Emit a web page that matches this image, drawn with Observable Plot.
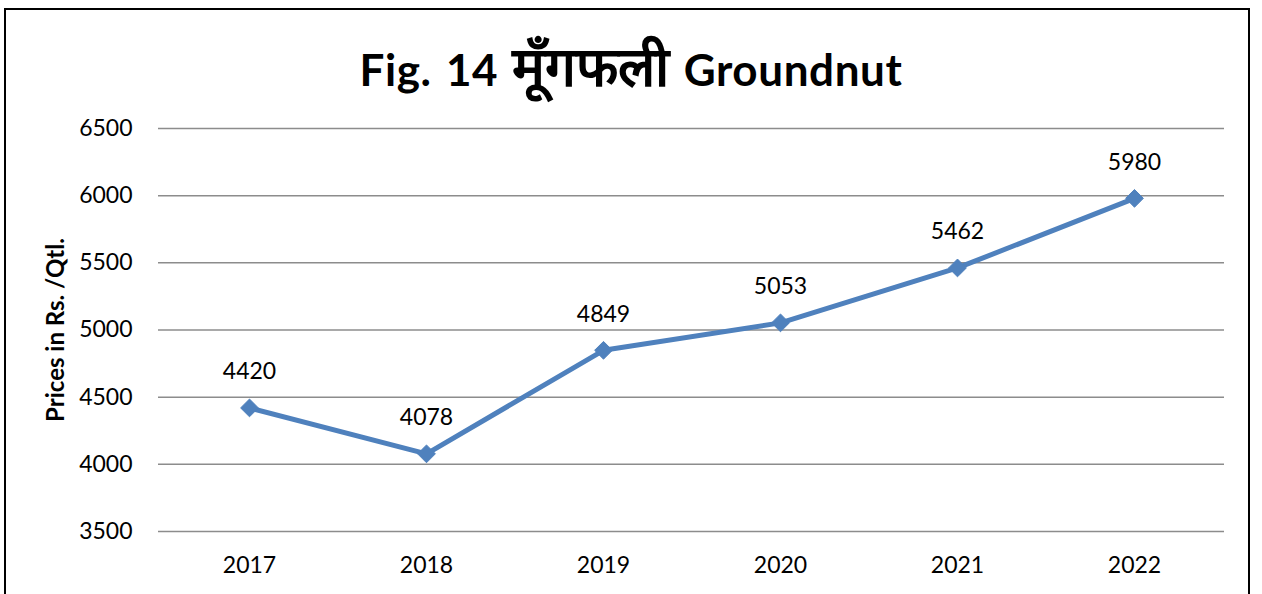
<!DOCTYPE html>
<html>
<head>
<meta charset="utf-8">
<script src="https://cdn.jsdelivr.net/npm/d3@7"></script>
<script src="https://cdn.jsdelivr.net/npm/@observablehq/plot@0.6"></script>
<style>
  html, body { margin: 0; padding: 0; background: #fff; }
  #wrap { position: relative; width: 1262px; height: 594px; overflow: hidden; font-family: Lato, "Open Sans", sans-serif; }
  #frame { position: absolute; left: 4px; top: 8px; width: 1246px; height: 600px; border: 2.5px solid #000; box-sizing: border-box; pointer-events: none; }
  #title { position: absolute; left: 0; top: 0; width: 1262px; height: 110px; text-align: center; line-height: 130px; font-weight: bold; font-size: 44px; letter-spacing: 0.6px; word-spacing: 3px; color: #000; white-space: nowrap; }
  #title .hi { font-size: 55px; letter-spacing: 0; }
  #chart { position: absolute; left: 0; top: 110px; }
  #chart svg text { fill: #000; }
  #chart [aria-label="y-axis label"] text, #chart [aria-label="y-axis label"] { font-weight: bold; font-size: 24px; }
</style>
</head>
<body>
<div id="wrap">
  <div id="title">Fig. 14 <span class="hi">मूँगफली</span> Groundnut</div>
  <div id="chart"></div>
  <div id="frame"></div>
</div>
<script>
const years = ["2017", "2018", "2019", "2020", "2021", "2022"];
const prices = [4420, 4078, 4849, 5053, 5462, 5980];
const yTicks = [3500, 4000, 4500, 5000, 5500, 6000, 6500];
const yTitle = "Prices in Rs. /Qtl.";

const data = years.map((y, i) => ({year: y, price: prices[i]}));
const color = "#4f81bd";

const chart = Plot.plot({
  width: 1262,
  height: 484,
  marginLeft: 158,
  marginRight: 38,
  marginTop: 18,
  marginBottom: 63,
  style: {fontFamily: "Lato, 'Open Sans', sans-serif", fontSize: "23px", background: "transparent"},
  x: {type: "point", domain: years, padding: 0.5},
  y: {domain: [3500, 6500]},
  marks: [
    Plot.gridY(yTicks, {stroke: "#8c8c8c", strokeOpacity: 1, strokeWidth: 1.5}),
    Plot.ruleX([0], {x: () => null, frameAnchor: "left", stroke: "#8c8c8c", strokeWidth: 1.5}),
    Plot.axisY(yTicks, {tickSize: 0, tickPadding: 26, fontSize: 23, tickFormat: d => String(d), label: yTitle, labelAnchor: "center", labelArrow: "none", labelOffset: 112}),
    Plot.axisX({tickSize: 0, tickPadding: 25, fontSize: 23, label: null}),
    Plot.line(data, {x: "year", y: "price", stroke: color, strokeWidth: 5}),
    Plot.dot(data, {x: "year", y: "price", symbol: "diamond2", r: 8, fill: color, stroke: color, strokeWidth: 1}),
    Plot.text(data, {x: "year", y: "price", text: d => String(d.price), dy: -36, fontSize: 23, fill: "#000"})
  ]
});
document.getElementById("chart").appendChild(chart);
</script>
</body>
</html>
